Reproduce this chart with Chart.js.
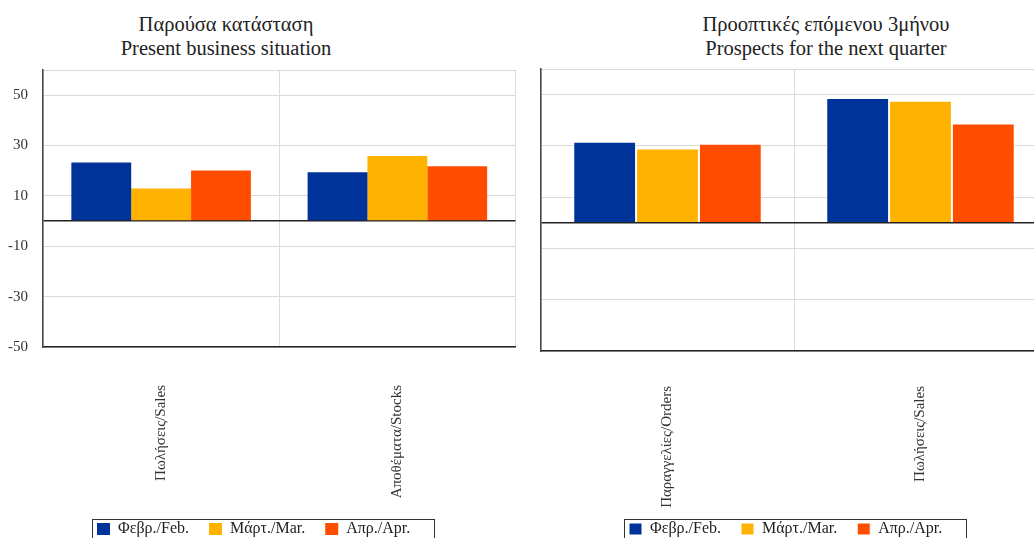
<!DOCTYPE html>
<html>
<head>
<meta charset="utf-8">
<script src="https://cdn.jsdelivr.net/npm/chart.js@4.4.1/dist/chart.umd.min.js"></script>
<style>
  html, body { margin: 0; padding: 0; background: #fff; width: 1034px; height: 538px; overflow: hidden; position: relative; }
  .ttl { position: absolute; top: 12px; width: 440px; text-align: center; font-family: "Liberation Serif", serif; font-size: 20.5px; line-height: 24px; color: #222; }
  .box { position: absolute; top: 0; }
</style>
</head>
<body>
<div class="ttl" style="left:6px">Παρούσα κατάσταση<br>Present business situation</div>
<div class="ttl" style="left:606px">Προοπτικές επόμενου 3μήνου<br>Prospects for the next quarter</div>
<div class="box" style="left:0;width:530px;height:546px"><canvas id="present"></canvas></div>
<div class="box" style="left:520px;width:550px;height:546px"><canvas id="prospect"></canvas></div>
<script>
// categories
const presentCats = ['Πωλήσεις/Sales', 'Αποθέματα/Stocks'];
const prospectCats = ['Παραγγελίες/Orders', 'Πωλήσεις/Sales'];
const seriesLabels = ['Φεβρ./Feb.', 'Μάρτ./Mar.', 'Απρ./Apr.'];
const seriesColors = ['rgb(0,51,153)', 'rgb(255,179,0)', 'rgb(255,77,0)'];

// values
const presentFeb = [23.3, 19.4];
const presentMar = [12.9, 25.8];
const presentApr = [20.1, 21.8];
const prospectFeb = [31.6, 48.7];
const prospectMar = [29.0, 47.6];
const prospectApr = [30.8, 38.7];

// y ticks
const yTicks = [-50, -30, -10, 0, 10, 30, 50, 60];

const serif = '"Liberation Serif", "DejaVu Serif", serif';

// keeps the legend thin, places its row at (x, y) and frames it
const legendBorder = {
    id: 'legendBorder',
    beforeUpdate(chart) {
        const L = chart.legend;
        if (L && !L._thin) {
            const fit = L.fit;
            L.fit = function () { fit.call(this); this.height = 30; };
            L._thin = true;
        }
    },
    afterLayout(chart, args, opts) {
        const L = chart.legend;
        if (!L || !L.lineWidths) return;
        const pad = L.options.labels.padding;
        const dx = opts.x - (L.left + pad + L.right - L.lineWidths[0]) / 2;
        const dy = opts.y - (L.top + pad);
        L.left += dx; L.right += dx;
        L.top += dy;
        L.bottom = chart.height;
    },
    afterDraw(chart) {
        const hb = chart.legend && chart.legend.legendHitBoxes;
        if (!hb || !hb.length) return;
        const ctx = chart.ctx;
        ctx.save();
        ctx.strokeStyle = '#333';
        ctx.lineWidth = 1;
        ctx.strokeRect(Math.round(hb[0].left - 5) + 0.5, 519.5, 342, 40);
        ctx.restore();
    }
};

function makeChart(id, cats, vals, o) {
    return new Chart(document.getElementById(id), {
        type: 'bar',
        data: {
            labels: cats,
            datasets: vals.map((v, i) => ({
                label: seriesLabels[i],
                data: v,
                backgroundColor: seriesColors[i],
                borderColor: '#fff',
                borderWidth: o.border,
                borderSkipped: 'bottom',
                barPercentage: 1,
                categoryPercentage: o.catPct
            }))
        },
        options: {
            responsive: true,
            maintainAspectRatio: false,
            animation: false,
            events: [],
            layout: { padding: { top: o.top, right: o.right, left: 0, bottom: 0 } },
            plugins: {
                legend: {
                    position: 'bottom',
                    labels: {
                        boxWidth: 13, boxHeight: 12, padding: 20,
                        color: '#222',
                        font: { family: serif, size: 16 }
                    }
                },
                legendBorder: { x: o.legendX, y: 521 },
                tooltip: { enabled: false }
            },
            scales: {
                x: {
                    grid: { color: '#dcdcdc', drawTicks: false, offset: true },
                    border: { color: '#222', width: 1.5 },
                    ticks: {
                        maxRotation: 90, minRotation: 90, padding: o.labelPad,
                        color: '#333', font: { family: serif, size: 15 }
                    },
                    afterFit(scale) {
                        const lh = scale.chart.legend ? scale.chart.legend.height : 0;
                        scale.height = scale.chart.height - o.bottom - lh;
                    }
                },
                y: {
                    min: -50, max: 60,
                    afterBuildTicks(scale) { scale.ticks = yTicks.map(v => ({ value: v })); },
                    grid: {
                        drawTicks: false,
                        color: c => c.tick && c.tick.value === 0 ? '#222' : '#d9d9d9',
                        lineWidth: c => c.tick && c.tick.value === 0 ? 1.5 : 1
                    },
                    border: { color: '#444', width: 1.5 },
                    ticks: {
                        display: o.yLabels, padding: 15, color: '#333',
                        font: { family: serif, size: 15 },
                        callback: v => (v === 0 || v === 60) ? '' : v
                    },
                    afterFit(scale) { scale.width = o.yWidth; }
                }
            }
        },
        plugins: [legendBorder]
    });
}

makeChart('present', presentCats, [presentFeb, presentMar, presentApr],
    { catPct: 0.76, border: 0, top: 70, bottom: 347, right: 14.5, yWidth: 43, yLabels: true, labelPad: 38, legendX: 97 });
makeChart('prospect', prospectCats, [prospectFeb, prospectMar, prospectApr],
    { catPct: 0.745, border: 1, top: 69, bottom: 351, right: 23, yWidth: 21, yLabels: false, labelPad: 35, legendX: 109 });
</script>
</body>
</html>
